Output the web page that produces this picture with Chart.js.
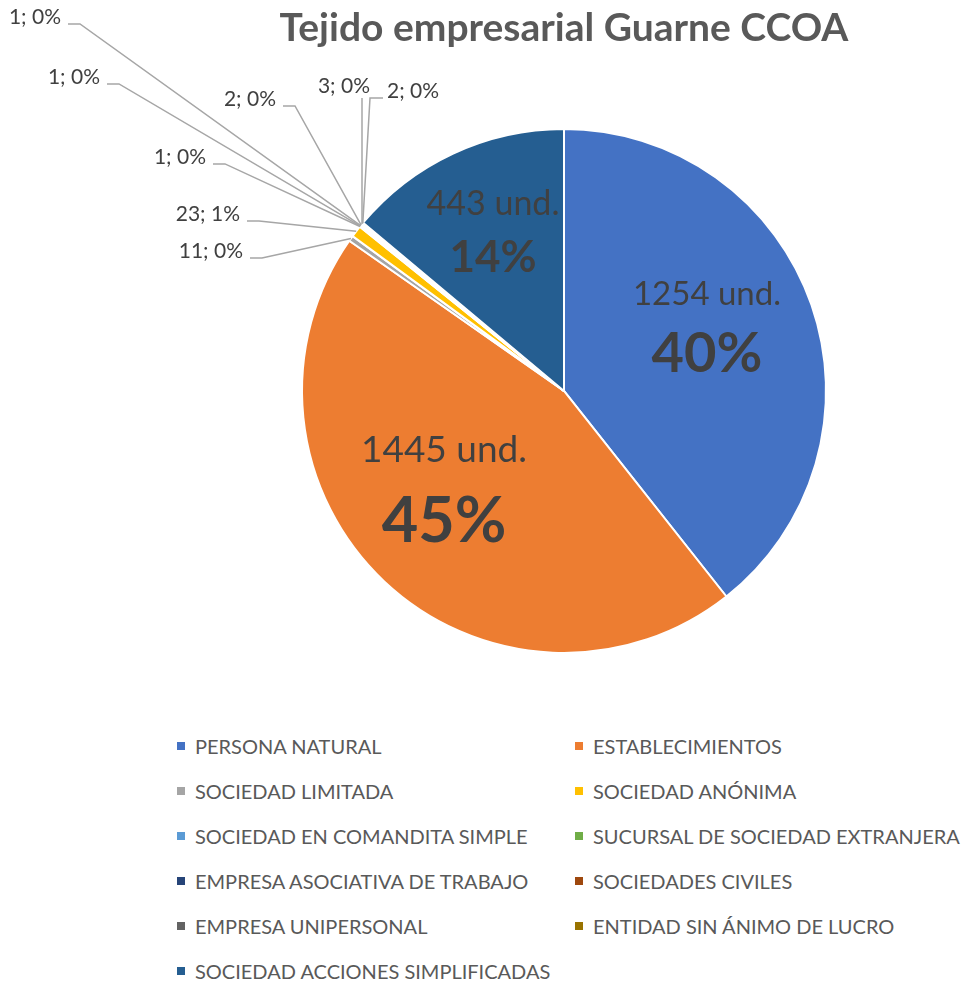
<!DOCTYPE html>
<html>
<head>
<meta charset="utf-8">
<script src="https://cdn.jsdelivr.net/npm/chart.js@4/dist/chart.umd.min.js"></script>
<style>
  body { margin: 0; background: #fff; width: 963px; height: 984px; position: relative; overflow: hidden; font-family: Lato, "Open Sans", sans-serif; }
  #pieChart { position: absolute; left: 0; top: 0; }
  #legend { position: absolute; left: 0; top: 723px; width: 963px; }
  .item { position: absolute; height: 45px; display: flex; align-items: center; font-size: 20px; color: #595959; white-space: nowrap; }
  .item span.box { width: 8px; height: 8px; margin-right: 10px; display: inline-block; }
</style>
</head>
<body>
<canvas id="pieChart" width="963" height="719"></canvas>
<div id="legend"></div>
<script>
// Datos
const categories = [
  "PERSONA NATURAL",
  "ESTABLECIMIENTOS",
  "SOCIEDAD LIMITADA",
  "SOCIEDAD ANÓNIMA",
  "SOCIEDAD EN COMANDITA SIMPLE",
  "SUCURSAL DE SOCIEDAD EXTRANJERA",
  "EMPRESA ASOCIATIVA DE TRABAJO",
  "SOCIEDADES CIVILES",
  "EMPRESA UNIPERSONAL",
  "ENTIDAD SIN ÁNIMO DE LUCRO",
  "SOCIEDAD ACCIONES SIMPLIFICADAS"
];
const values = [1254, 1445, 11, 23, 1, 1, 1, 2, 3, 2, 443];
const percentLabels = ["40%", "45%", "0%", "1%", "0%", "0%", "0%", "0%", "0%", "0%", "14%"];
const colors = ["#4472C4", "#ED7D31", "#A5A5A5", "#FFC000", "#5B9BD5", "#70AD47",
                "#264478", "#9E480E", "#636363", "#997300", "#255E91"];

// label placement, relative to the pie centre
const insideLabels = {
  0: { dx: 143, dy: -67, half: 30, f1: 33, f2: 56 },
  1: { dx: -120, dy: 95, half: 36, f1: 37, f2: 63 },
  10: { dx: -71, dy: -160, half: 27, f1: 34, f2: 44 }
};
const outsideLabels = {
  2: { dx: -321, dy: -140, side: "left" },
  3: { dx: -324, dy: -177, side: "left" },
  4: { dx: -358, dy: -234, side: "left" },
  5: { dx: -464, dy: -314, side: "left" },
  6: { dx: -503, dy: -374, side: "left" },
  7: { dx: -288, dy: -292, side: "left" },
  8: { dx: -194, dy: -305, side: "up" },
  9: { dx: -177, dy: -300, side: "right" }
};

const labelPlugin = {
  id: "sliceLabels",
  afterDatasetsDraw(chart) {
    const ctx = chart.ctx;
    const arcs = chart.getDatasetMeta(0).data;
    ctx.save();
    arcs.forEach((arc, i) => {
      const p = arc.getProps(["x", "y", "startAngle", "endAngle", "outerRadius"], true);
      const cx = p.x, cy = p.y;
      if (insideLabels[i]) {
        const l = insideLabels[i];
        ctx.fillStyle = "#404040";
        ctx.textAlign = "center";
        ctx.textBaseline = "middle";
        ctx.font = l.f1 + "px Lato";
        ctx.fillText(values[i] + " und.", cx + l.dx, cy + l.dy - l.half);
        ctx.font = "bold " + l.f2 + "px Lato";
        ctx.fillText(percentLabels[i], cx + l.dx, cy + l.dy + l.half);
        return;
      }
      const o = outsideLabels[i];
      if (!o) return;
      const mid = (p.startAngle + p.endAngle) / 2;
      const ax = cx + Math.cos(mid) * p.outerRadius;
      const ay = cy + Math.sin(mid) * p.outerRadius;
      const tx = cx + o.dx, ty = cy + o.dy;
      ctx.strokeStyle = "#A6A6A6";
      ctx.lineWidth = 1.5;
      ctx.beginPath();
      if (o.side === "left") {
        ctx.moveTo(tx + 7, ty + 7);
        ctx.lineTo(tx + 19, ty + 7);
        ctx.lineTo(ax, ay);
      } else if (o.side === "right") {
        ctx.moveTo(tx - 4, ty + 7);
        ctx.lineTo(tx - 17, ty + 7);
        ctx.lineTo(ax, ay);
      } else {
        ctx.moveTo(tx - 8, ty + 12);
        ctx.lineTo(ax, ay);
      }
      ctx.stroke();
      ctx.fillStyle = "#404040";
      ctx.font = "21px Lato";
      ctx.textBaseline = "middle";
      ctx.textAlign = o.side === "right" ? "left" : "right";
      ctx.fillText(values[i] + "; " + percentLabels[i], tx, ty);
    });
    ctx.restore();
  }
};

new Chart(document.getElementById("pieChart"), {
  type: "pie",
  data: {
    labels: categories,
    datasets: [{
      data: values,
      backgroundColor: colors,
      borderColor: "#ffffff",
      borderWidth: 2,
      radius: 262
    }]
  },
  options: {
    responsive: false,
    animation: false,
    layout: { padding: { left: 165, right: 0, top: 0, bottom: 0 } },
    plugins: {
      legend: { display: false },
      tooltip: { enabled: false },
      title: {
        display: true,
        text: "Tejido empresarial Guarne CCOA",
        color: "#595959",
        font: { family: "Lato", size: 39, weight: "bold" },
        padding: { top: 5, bottom: 11 }
      }
    }
  },
  plugins: [labelPlugin]
});

// Legend in two columns, built from the same arrays
const legend = document.getElementById("legend");
categories.forEach((name, i) => {
  const item = document.createElement("div");
  item.className = "item";
  item.style.left = (i % 2 === 0 ? 177 : 575) + "px";
  item.style.top = (Math.floor(i / 2) * 45) + "px";
  item.innerHTML = '<span class="box" style="background:' + colors[i] + '"></span>' + name;
  legend.appendChild(item);
});
</script>
</body>
</html>
